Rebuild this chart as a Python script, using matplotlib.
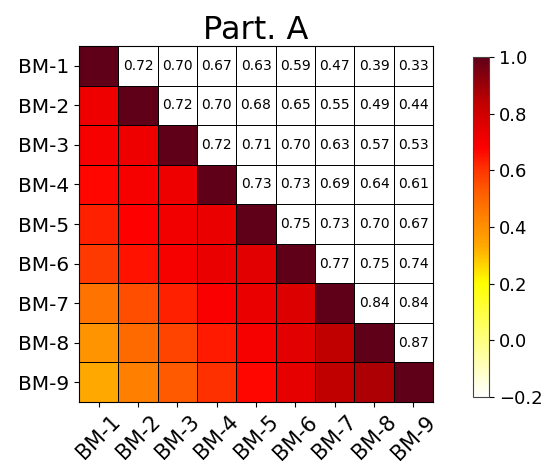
import numpy as np
import matplotlib
matplotlib.use("Agg")
import matplotlib.pyplot as plt
from matplotlib.colors import LinearSegmentedColormap, ListedColormap

labels = ["BM-1", "BM-2", "BM-3", "BM-4", "BM-5", "BM-6", "BM-7", "BM-8", "BM-9"]

# upper triangle of the correlation matrix, row by row
row1 = [0.72, 0.70, 0.67, 0.63, 0.59, 0.47, 0.39, 0.33]
row2 = [0.72, 0.70, 0.68, 0.65, 0.55, 0.49, 0.44]
row3 = [0.72, 0.71, 0.70, 0.63, 0.57, 0.53]
row4 = [0.73, 0.73, 0.69, 0.64, 0.61]
row5 = [0.75, 0.73, 0.70, 0.67]
row6 = [0.77, 0.75, 0.74]
row7 = [0.84, 0.84]
row8 = [0.87]
upper_rows = [row1, row2, row3, row4, row5, row6, row7, row8]

n = len(labels)
corr = np.eye(n)
for i, r in enumerate(upper_rows):
    for k, v in enumerate(r):
        j = i + 1 + k
        corr[i, j] = v
        corr[j, i] = v

# colour map
cmap = LinearSegmentedColormap.from_list("heat", [
    (0.0, "#ffffff"),
    (0.2 / 1.2, "#ffff80"),
    (0.4 / 1.2, "#ffff00"),
    (0.53 / 1.2, "#ffaa00"),
    (0.64 / 1.2, "#ff8000"),
    (0.73 / 1.2, "#ff5a00"),
    (0.81 / 1.2, "#ff3000"),
    (0.88 / 1.2, "#ff0000"),
    (1.04 / 1.2, "#c00000"),
    (1.0, "#600018"),
])

iu = np.triu_indices(n, 1)
lower = np.ma.array(corr, mask=np.triu(np.ones((n, n), bool), 1))
upper = np.ma.array(np.ones((n, n)), mask=~np.triu(np.ones((n, n), bool), 1))

fig = plt.figure(figsize=(5.46, 4.73), dpi=100)
ax = fig.add_axes([79 / 546, 1 - 402 / 473, 354 / 546, 356 / 473])
cax = fig.add_axes([473 / 546, 1 - 397 / 473, 16 / 546, 340 / 473])

mesh = ax.pcolormesh(lower, cmap=cmap, vmin=-0.2, vmax=1.0, edgecolors="black", linewidth=0.7)
ax.pcolormesh(upper, cmap=ListedColormap(["white"]), edgecolors="black", linewidth=0.7)

for i, j in zip(*iu):
    ax.text(j + 0.5, i + 0.5, "%.2f" % corr[i, j], ha="center", va="center", fontsize=10)

ax.set_xlim(0, n)
ax.set_ylim(n, 0)
ax.set_xticks(np.arange(n) + 0.5)
ax.set_yticks(np.arange(n) + 0.5)
ax.set_xticklabels(labels, rotation=45, fontsize=15)
ax.set_yticklabels(labels, fontsize=14.5)
ax.set_title("Part. A", fontsize=23, pad=5)

cb = fig.colorbar(mesh, cax=cax)
cb.set_ticks([-0.2, 0.0, 0.2, 0.4, 0.6, 0.8, 1.0])
cb.ax.tick_params(labelsize=13)
cb.outline.set_edgecolor("#444444")

fig.savefig("out.png", dpi=100)
